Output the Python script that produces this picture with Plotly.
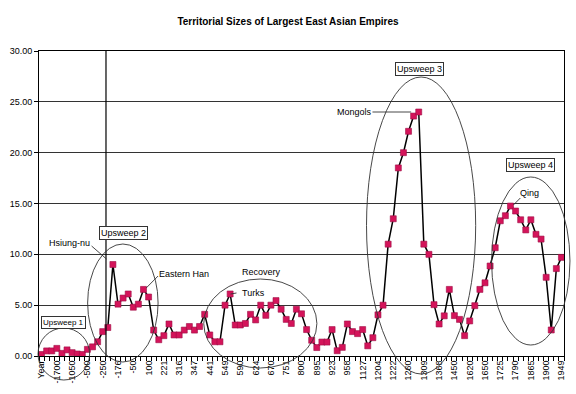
import plotly.graph_objects as go

# ---- data ----
tick_labels = ["Year", "-1700", "-1050", "-500", "-250", "-176", "-50", "100", "221", "316",
               "347", "441", "549", "590", "624", "670", "751", "800", "895", "923",
               "958", "1127", "1204", "1222", "1260", "1309", "1368", "1450", "1620", "1650",
               "1725", "1790", "1865", "1900", "1949"]
values_early = [0.15, 0.5, 0.5, 0.75, 0.26, 0.6, 0.33, 0.2, 0.15, 0.65, 0.9, 1.4, 2.4, 2.8,
                9.0, 5.1, 5.7, 6.1, 4.8, 5.1, 6.55, 5.8, 2.55, 1.6, 2.0, 3.15]
values_middle = [2.07, 2.07, 2.55, 2.9, 2.55, 2.9, 4.1, 2.07, 1.4, 1.4, 5.0, 6.1, 3.05, 3.05,
                 3.2, 4.1, 3.55, 5.0, 4.0, 5.0, 5.45, 4.6, 3.6, 3.2, 4.6]
values_late_mid = [4.15, 2.6, 1.55, 0.83, 1.37, 1.37, 2.6, 0.52, 0.85, 3.15, 2.4, 2.2, 2.6,
                   1.0, 1.8, 4.05, 5.0]
values_late = [11.0, 13.5, 18.5, 20.0, 22.1, 23.6, 24.0, 11.0, 10.0, 5.05, 3.15, 3.95, 6.55,
               3.97, 3.6, 2.0, 3.45, 4.95, 6.55, 7.2, 8.85, 10.65, 13.3, 13.8, 14.75, 14.26,
               13.4, 12.4, 13.4, 11.97, 11.5, 7.74, 2.56, 8.6, 9.7]
values = values_early + values_middle + values_late_mid + values_late
x_idx = list(range(len(values)))
tick_step = 3

# ---- layout helpers (pixel -> paper) ----
L, R, T, B = 37, 566, 51, 356
def px(x):
    return (x - L) / (R - L)
def py(y):
    return (B - y) / (B - T)

FONT = "Liberation Sans, Arial, sans-serif"

fig = go.Figure()
fig.add_trace(go.Scatter(
    x=x_idx, y=values, mode="lines+markers",
    line=dict(color="black", width=1.5),
    marker=dict(symbol="square", size=6, color="#D4145A",
                line=dict(color="#9E0D45", width=0.6)),
    showlegend=False, hoverinfo="y"))

shapes = []
def ellipse(x0, y0, x1, y1):
    shapes.append(dict(type="circle", xref="paper", yref="paper",
                       x0=px(x0), x1=px(x1), y0=py(y1), y1=py(y0),
                       line=dict(color="#333333", width=0.9), layer="above"))
def seg(x0, y0, x1, y1, color="#333333", width=0.9):
    shapes.append(dict(type="line", xref="paper", yref="paper",
                       x0=px(x0), x1=px(x1), y0=py(y0), y1=py(y1),
                       line=dict(color=color, width=width), layer="above"))

# vertical marker line
seg(104.5, T, 104.5, B, color="black", width=1.2)
# ellipses
ellipse(36, 328, 88, 380)
ellipse(86, 244, 157, 362)
ellipse(203, 279, 317, 368)
ellipse(367, 77, 477, 374)
ellipse(493, 177, 572, 345)
# leader lines
seg(90, 246, 105, 259)
seg(157, 276, 145, 288)
seg(236, 293, 230, 294)
seg(373, 112, 412, 112)
seg(522, 198, 515, 205)

annotations = []
def label(text, x, y, box=False, size=9):
    d = dict(text=text, xref="paper", yref="paper", x=px(x), y=py(y),
             xanchor="center", yanchor="middle", showarrow=False,
             font=dict(family=FONT, size=size, color="black"))
    if box:
        d.update(bordercolor="#333333", borderwidth=1, bgcolor="white", borderpad=1)
    annotations.append(d)

label("Upsweep 1", 62, 322, box=True, size=8)
label("Upsweep 2", 122, 233, box=True)
label("Hsiung-nu", 68, 243)
label("Eastern Han", 183, 274)
label("Recovery", 261, 272)
label("Turks", 253, 293)
label("Upsweep 3", 420, 69, box=True)
label("Mongols", 355, 112)
label("Upsweep 4", 532, 165, box=True)
label("Qing", 531, 193)

fig.update_layout(
    width=576, height=394,
    margin=dict(l=L, r=576 - R, t=T, b=394 - B),
    paper_bgcolor="white", plot_bgcolor="white",
    title=dict(text="<b>Territorial Sizes of Largest East Asian Empires</b>",
               x=0.5, xanchor="center", y=1 - 21 / 394, yanchor="middle",
               font=dict(family=FONT, size=10, color="black")),
    font=dict(family=FONT, size=9, color="black"),
    shapes=shapes, annotations=annotations,
    xaxis=dict(range=[-0.5, len(values) - 0.5],
               tickmode="array", tickvals=x_idx[::tick_step], ticktext=tick_labels,
               tickangle=-90, ticks="", showgrid=False, zeroline=False,
               showline=True, linecolor="black", linewidth=1, mirror=True,
               tickfont=dict(family=FONT, size=9, color="black"),
               minor=dict(tickmode="linear", tick0=-0.5, dtick=1, ticks="outside",
                          ticklen=4, tickcolor="black", showgrid=False)),
    yaxis=dict(range=[0, 30], dtick=5, tickformat=".2f",
               showgrid=True, gridcolor="#333333", gridwidth=1,
               zeroline=False, showline=True, linecolor="black", linewidth=1,
               mirror=True, ticks="outside", ticklen=4, tickcolor="black",
               tickfont=dict(family=FONT, size=9, color="black")),
)

fig.write_html("out.html", config={"displayModeBar": False},
               post_script="document.body.style.margin='0';document.body.style.overflow='hidden';")
